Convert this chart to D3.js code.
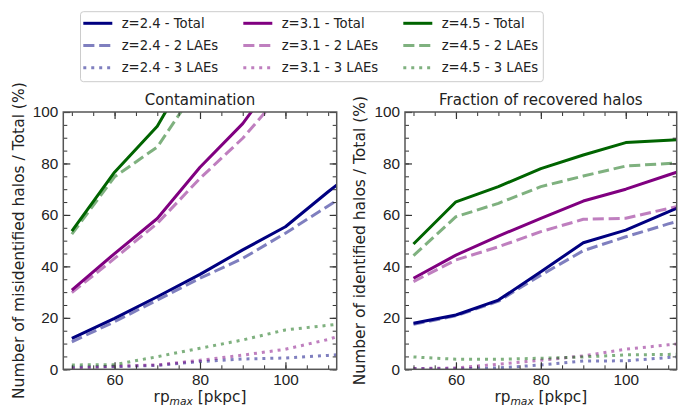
<!DOCTYPE html>
<html>
<head>
<meta charset="utf-8">
<script src="https://cdn.jsdelivr.net/npm/d3@7"></script>
<style>
  body { margin: 0; background: #fff; }
  svg { display: block; font-family: 'DejaVu Sans', sans-serif; }
  .axis text { font-size: 15.3px; fill: #222; }
</style>
</head>
<body>
<div id="chart"></div>
<script>
// rp_max values (pkpc)
const rpMax = [50, 60, 70, 80, 90, 100, 110, 120]

// Contamination (%), left panel
const contamZ24Total = [12.0, 19.8, 28.2, 36.9, 46.4, 55.4, 69, 82]
const contamZ24Two = [10.7, 18.5, 26.9, 35.4, 43.1, 52.9, 63.5, 74]
const contamZ24Three = [0.8, 1.0, 1.5, 3.0, 4.0, 4.4, 5.4, 6.5]
const contamZ31Total = [30.8, 45.0, 58.6, 78.5, 95.5, 118, 135, 150]
const contamZ31Two = [29.8, 43.1, 56.7, 74.2, 89.8, 109, 125, 140]
const contamZ31Three = [0.4, 1.2, 1.7, 3.5, 5.5, 7.8, 11.6, 17]
const contamZ45Total = [53.7, 76.6, 94.5, 123, 140, 150, 160, 170]
const contamZ45Two = [52.5, 74.8, 86.4, 111, 130, 145, 155, 165]
const contamZ45Three = [1.7, 1.8, 4.9, 8.2, 11.4, 15.3, 17.1, 19]

// Recovered fraction (%), right panel
const recovZ24Total = [17.9, 21.1, 26.9, 37.9, 49.2, 54.1, 61.2, 68]
const recovZ24Two = [17.5, 20.8, 26.5, 36.6, 46.1, 51.5, 56.5, 61]
const recovZ24Three = [0.2, 0.2, 0.5, 1.7, 3.2, 3.3, 4.6, 5.5]
const recovZ31Total = [35.4, 44.4, 51.8, 58.7, 65.4, 70.0, 75.5, 81]
const recovZ31Two = [34.1, 42.5, 47.6, 53.5, 58.3, 58.7, 62.5, 66]
const recovZ31Three = [0.3, 0.5, 2.0, 3.5, 5.2, 7.8, 9.5, 11]
const recovZ45Total = [48.7, 65.1, 71.0, 78.0, 83.3, 88.1, 89.0, 90]
const recovZ45Two = [44.2, 59.3, 64.5, 71.0, 75.1, 79.0, 80.0, 81]
const recovZ45Three = [4.8, 3.9, 3.9, 4.3, 4.8, 5.6, 5.8, 6]

const redshifts = ['2.4', '3.1', '4.5']
const kinds = ['Total', '2 LAEs', '3 LAEs']
const zColors = { '2.4': '#000080', '3.1': '#800080', '4.5': '#006400' }

const yTicks = [0, 20, 40, 60, 80, 100]
const xTicks = [60, 80, 100]

const contamSeries = [
  [contamZ24Total, contamZ24Two, contamZ24Three],
  [contamZ31Total, contamZ31Two, contamZ31Three],
  [contamZ45Total, contamZ45Two, contamZ45Three]
]
const recovSeries = [
  [recovZ24Total, recovZ24Two, recovZ24Three],
  [recovZ31Total, recovZ31Two, recovZ31Three],
  [recovZ45Total, recovZ45Two, recovZ45Three]
]

const lw = 3
const styles = {
  Total: { dash: null, opacity: 1 },
  '2 LAEs': { dash: [3.7 * lw, 1.6 * lw], opacity: 0.5 },
  '3 LAEs': { dash: [1 * lw, 1.65 * lw], opacity: 0.5 }
}

const width = 678
const height = 409

const svg = d3
  .select('#chart')
  .append('svg')
  .attr('width', width)
  .attr('height', height)

const panels = [
  {
    id: 'contam',
    left: 63.3,
    right: 336.7,
    title: 'Contamination',
    ylabel: 'Number of misidentified halos / Total (%)',
    ylabelX: 23.5,
    series: contamSeries
  },
  {
    id: 'recov',
    left: 405,
    right: 676.7,
    title: 'Fraction of recovered halos',
    ylabel: 'Number of identified halos / Total (%)',
    ylabelX: 364.5,
    series: recovSeries
  }
]

const plotTop = 112
const plotBottom = 369.3

panels.forEach(p => {
  const xScale = d3.scaleLinear().domain([48, 112]).range([p.left, p.right])
  const yScale = d3.scaleLinear().domain([0, 100]).range([plotBottom, plotTop])

  svg
    .append('clipPath')
    .attr('id', 'clip-' + p.id)
    .append('rect')
    .attr('x', p.left)
    .attr('y', plotTop)
    .attr('width', p.right - p.left)
    .attr('height', plotBottom - plotTop)

  const line = d3
    .line()
    .x((d, i) => xScale(rpMax[i]))
    .y(d => yScale(d))

  const g = svg.append('g').attr('clip-path', 'url(#clip-' + p.id + ')')

  redshifts.forEach((z, zi) => {
    kinds.forEach((k, ki) => {
      const st = styles[k]
      g.append('path')
        .datum(p.series[zi][ki])
        .attr('d', line)
        .attr('fill', 'none')
        .attr('stroke', zColors[z])
        .attr('stroke-opacity', st.opacity)
        .attr('stroke-width', lw)
        .attr('stroke-linejoin', 'round')
        .attr('stroke-dasharray', st.dash ? st.dash.join(',') : null)
    })
  })

  // axes, ticks pointing inward on all four sides
  const minorX = d3.range(50, 112, 5)
  const minorY = d3.range(0, 101, 5)

  const addAxis = (axis, tf, scale, minor, labels) => {
    svg
      .append('g')
      .attr('class', 'axis')
      .attr('transform', tf)
      .call(axis(scale).tickValues(minor).tickSize(-4).tickFormat(''))
      .call(s => s.select('.domain').remove())
      .call(s => s.selectAll('line').attr('stroke', '#333').attr('stroke-width', 1))
    svg
      .append('g')
      .attr('class', 'axis')
      .attr('transform', tf)
      .call(
        axis(scale)
          .tickValues(labels.ticks)
          .tickSize(-7)
          .tickPadding(labels.pad)
          .tickFormat(labels.show ? d3.format('d') : '')
      )
      .call(s => s.select('.domain').remove())
      .call(s => s.selectAll('line').attr('stroke', '#333').attr('stroke-width', 1.2))
  }

  addAxis(d3.axisBottom, 'translate(0,' + plotBottom + ')', xScale, minorX, { ticks: xTicks, pad: 5.2, show: true })
  addAxis(d3.axisTop, 'translate(0,' + plotTop + ')', xScale, minorX, { ticks: xTicks, pad: 5, show: false })
  addAxis(d3.axisLeft, 'translate(' + p.left + ',0)', yScale, minorY, { ticks: yTicks, pad: 5, show: true })
  addAxis(d3.axisRight, 'translate(' + p.right + ',0)', yScale, minorY, { ticks: yTicks, pad: 5, show: false })

  svg
    .append('rect')
    .attr('x', p.left)
    .attr('y', plotTop)
    .attr('width', p.right - p.left)
    .attr('height', plotBottom - plotTop)
    .attr('fill', 'none')
    .attr('stroke', '#555')
    .attr('stroke-width', 1.5)

  const cx = (p.left + p.right) / 2

  svg
    .append('text')
    .attr('x', cx)
    .attr('y', 105)
    .attr('text-anchor', 'middle')
    .attr('font-size', 15)
    .attr('fill', '#222')
    .text(p.title)

  const xl = svg
    .append('text')
    .attr('x', cx)
    .attr('y', 401.5)
    .attr('text-anchor', 'middle')
    .attr('font-size', 15.3)
    .attr('fill', '#222')
  xl.append('tspan').text('rp')
  xl.append('tspan')
    .attr('font-size', 10.7)
    .attr('font-style', 'italic')
    .attr('dy', 3)
    .text('max')
  xl.append('tspan').attr('dy', -3).text(' [pkpc]')

  svg
    .append('text')
    .attr('transform', 'translate(' + p.ylabelX + ',' + (plotTop + plotBottom) / 2 + ') rotate(-90)')
    .attr('text-anchor', 'middle')
    .attr('font-size', 15.5)
    .attr('fill', '#222')
    .text(p.ylabel)
})

// legend
const legend = svg.append('g')
legend
  .append('rect')
  .attr('x', 80.5)
  .attr('y', 11.7)
  .attr('width', 462.8)
  .attr('height', 70)
  .attr('rx', 3)
  .attr('fill', 'white')
  .attr('fill-opacity', 0.8)
  .attr('stroke', '#ccc')
  .attr('stroke-width', 1)

redshifts.forEach((z, zi) => {
  kinds.forEach((k, ki) => {
    const st = styles[k]
    const x0 = 83.3 + zi * 160
    const y0 = 23.3 + ki * 22.2
    legend
      .append('line')
      .attr('x1', x0)
      .attr('x2', x0 + 29)
      .attr('y1', y0)
      .attr('y2', y0)
      .attr('stroke', zColors[z])
      .attr('stroke-opacity', st.opacity)
      .attr('stroke-width', lw)
      .attr('stroke-dasharray', st.dash ? st.dash.join(',') : null)
    legend
      .append('text')
      .attr('x', x0 + 38.4)
      .attr('y', y0)
      .attr('dy', '0.36em')
      .attr('font-size', 13.2)
      .attr('fill', '#222')
      .text('z=' + z + ' - ' + k)
  })
})
</script>
</body>
</html>
